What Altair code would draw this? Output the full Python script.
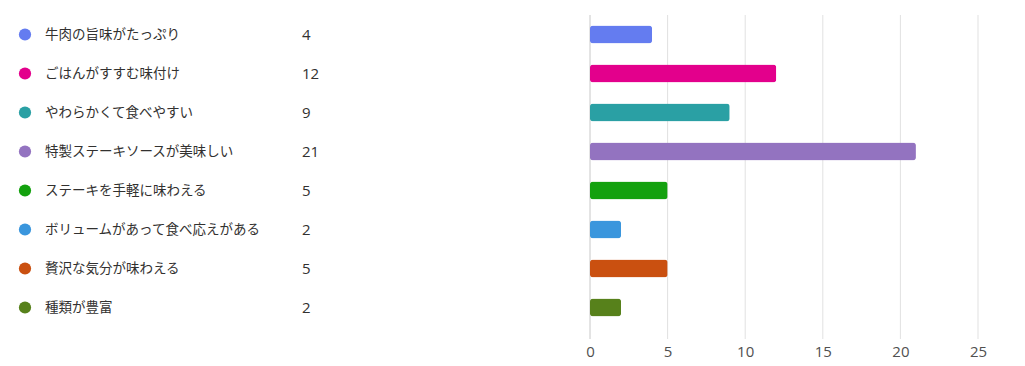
import altair as alt
import pandas as pd

categories = ["牛肉の旨味がたっぷり", "ごはんがすすむ味付け", "やわらかくて食べやすい", "特製ステーキソースが美味しい",
              "ステーキを手軽に味わえる", "ボリュームがあって食べ応えがある", "贅沢な気分が味わえる", "種類が豊富"]
counts = [4, 12, 9, 21, 5, 2, 5, 2]
colors = ["#647cf0", "#e3008c", "#2aa0a4", "#9373c0", "#13a10e", "#3a96dd", "#ca5010", "#57811b"]
ticks = [0, 5, 10, 15, 20, 25]

df = pd.DataFrame({"cat": categories, "n": counts, "color": colors})
df["ns"] = df["n"].astype(str)
grid_df = pd.DataFrame({"t": ticks, "gc": ["#c8c8c8"] + ["#e1e1e1"] * 5})

FONT = "Noto Sans CJK JP"
yenc = alt.Y("cat:N", scale=alt.Scale(domain=categories, paddingInner=0, paddingOuter=0), axis=None)
xscale = alt.Scale(domain=[0, 25], nice=False, zero=True)
xaxis = alt.Axis(values=ticks, grid=False, domain=False, ticks=False, title=None,
                 labelFontSize=15, labelColor="#505050", labelFont="Open Sans",
                 labelPadding=24, labelBaseline="middle", labelFlush=False)

grid = alt.Chart(grid_df).mark_rule(strokeWidth=1).encode(
    x=alt.X("t:Q", scale=xscale, axis=xaxis),
    y=alt.value(0), y2=alt.value(324),
    color=alt.Color("gc:N", scale=None),
)

bars = alt.Chart(df).mark_bar(size=18, cornerRadius=3).encode(
    x=alt.X("n:Q", scale=xscale, axis=xaxis),
    y=yenc,
    color=alt.Color("color:N", scale=None),
)

dots = alt.Chart(df).mark_circle(size=150, opacity=1).encode(
    x=alt.value(-565), y=yenc, color=alt.Color("color:N", scale=None),
)

labels = alt.Chart(df).mark_text(align="left", baseline="middle", font=FONT, fontSize=13.5, color="#323130").encode(
    x=alt.value(-545), y=yenc, text="cat:N",
)

nums = alt.Chart(df).mark_text(align="left", baseline="middle", font="Open Sans", fontSize=15, color="#323130").encode(
    x=alt.value(-288), y=yenc, text="ns:N",
)

chart = alt.layer(grid, bars, dots, labels, nums).properties(
    width=388, height=312,
    background="white",
    autosize=alt.AutoSizeParams(type="none"),
    padding={"left": 590, "top": 15, "right": 47, "bottom": 39},
).configure_view(stroke=None)

chart.save("out.html", embed_options={"renderer": "svg", "actions": False})
